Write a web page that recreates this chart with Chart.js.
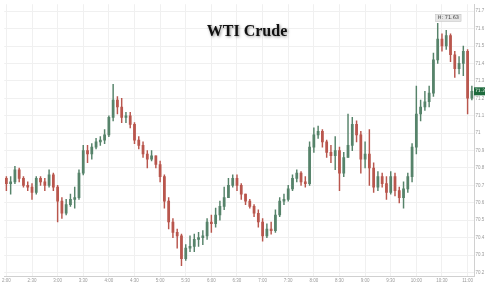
<!DOCTYPE html>
<html>
<head>
<meta charset="utf-8">
<script src="https://cdn.jsdelivr.net/npm/chart.js@4.4.0/dist/chart.umd.min.js"></script>
<style>
html,body{margin:0;padding:0;background:#fff;}
canvas{display:block;}
</style>
</head>
<body>
<canvas id="chart" width="485" height="286"></canvas>
<script>
// 5-minute candles, 2:00 -> 11:05
var opens = [70.74,70.71,70.72,70.79,70.74,70.70,70.69,70.66,70.74,70.72,
             70.70,70.76,70.69,70.61,70.54,70.59,70.62,70.63,70.77,70.90,
             70.88,70.92,70.95,70.96,70.99,71.09,71.19,71.15,71.09,71.10,
             71.05,70.96,70.93,70.88,70.85,70.87,70.82,70.75,70.61,70.49,
             70.43,70.41,70.28,70.34,70.35,70.39,70.40,70.41,70.49,70.48,
             70.53,70.58,70.63,70.70,70.74,70.70,70.65,70.61,70.58,70.54,
             70.49,70.41,70.45,70.44,70.53,70.61,70.62,70.68,70.74,70.77,
             70.72,70.71,70.92,70.99,71.01,70.95,70.89,70.87,70.90,70.77,
             70.86,70.93,71.05,70.99,70.85,70.88,70.80,70.69,70.75,70.71,
             70.66,70.75,70.67,70.63,70.68,70.75,70.92,71.11,71.15,71.18,
             71.23,71.42,71.54,71.50,71.56,71.45,71.37,71.40,71.47,71.20];
var highs = [70.75,70.75,70.81,70.80,70.75,70.72,70.71,70.75,70.75,70.74,
             70.79,70.77,70.70,70.63,70.62,70.65,70.69,70.79,70.93,70.93,
             70.94,70.97,70.98,71.02,71.10,71.28,71.21,71.20,71.12,71.12,
             71.06,70.98,70.95,70.90,70.90,70.87,70.84,70.76,70.63,70.51,
             70.45,70.42,70.36,70.41,70.42,70.43,70.44,70.51,70.53,70.57,
             70.61,70.69,70.74,70.76,70.76,70.71,70.65,70.62,70.59,70.56,
             70.51,70.48,70.49,70.56,70.63,70.65,70.70,70.76,70.79,70.78,
             70.75,70.95,71.03,71.04,71.02,70.96,70.93,70.98,70.92,70.89,
             71.11,71.09,71.07,71.01,70.95,71.02,70.83,70.78,70.77,70.75,
             70.78,70.77,70.69,70.72,70.77,70.94,71.27,71.19,71.24,71.27,
             71.46,71.63,71.57,71.59,71.57,71.47,71.44,71.50,71.48,71.27];
var lows  = [70.67,70.65,70.71,70.72,70.69,70.67,70.62,70.65,70.70,70.67,
             70.69,70.67,70.49,70.51,70.53,70.58,70.57,70.62,70.76,70.83,
             70.85,70.91,70.93,70.94,70.98,71.07,71.11,71.06,71.06,71.03,
             70.94,70.91,70.86,70.80,70.84,70.80,70.72,70.57,70.45,70.40,
             70.34,70.24,70.27,70.32,70.32,70.35,70.36,70.39,70.43,70.46,
             70.50,70.56,70.66,70.69,70.67,70.62,70.59,70.57,70.52,70.46,
             70.38,70.40,70.42,70.43,70.52,70.59,70.61,70.67,70.72,70.70,
             70.69,70.70,70.89,70.97,70.92,70.86,70.83,70.79,70.67,70.75,
             70.86,70.90,70.95,70.77,70.80,70.70,70.66,70.67,70.69,70.62,
             70.65,70.64,70.60,70.57,70.66,70.72,70.88,71.07,71.13,71.15,
             71.21,71.40,71.47,71.48,71.41,71.32,71.34,71.33,71.11,71.19];
var closes = [70.71,70.72,70.79,70.74,70.70,70.69,70.66,70.74,70.72,70.70,
              70.76,70.69,70.61,70.54,70.59,70.62,70.63,70.77,70.90,70.88,
              70.92,70.95,70.96,70.99,71.09,71.19,71.15,71.09,71.10,71.05,
              70.96,70.93,70.88,70.85,70.87,70.82,70.75,70.61,70.49,70.43,
              70.41,70.28,70.34,70.35,70.39,70.40,70.41,70.49,70.48,70.53,
              70.58,70.63,70.70,70.74,70.70,70.65,70.61,70.58,70.54,70.49,
              70.41,70.45,70.44,70.53,70.61,70.62,70.68,70.74,70.77,70.72,
              70.71,70.92,70.99,71.01,70.95,70.89,70.87,70.90,70.77,70.86,
              70.93,71.05,70.99,70.85,70.88,70.80,70.69,70.75,70.71,70.66,
              70.75,70.67,70.63,70.68,70.75,70.92,71.11,71.15,71.18,71.23,
              71.42,71.54,71.50,71.56,71.45,71.37,71.40,71.47,71.20,71.24];

var tickLabels = ['2:00','2:30','3:00','3:30','4:00','4:30','5:00','5:30','6:00','6:30',
                  '7:00','7:30','8:00','8:30','9:00','9:30','10:00','10:30','11:00'];
var yTicks = [70.2,70.3,70.4,70.5,70.6,70.7,70.8,70.9,71.0,71.1,71.2,71.3,71.4,71.5,71.6,71.7];
var titleText = 'WTI Crude';

var upColor = '#56836a';
var downColor = '#b9564d';

// one category per candle, labelled by time
var times = [];
for (var m = 0; m < closes.length; m++) {
    var t = 120 + m * 5;
    var mm = t % 60;
    times.push(Math.floor(t / 60) + ':' + (mm < 10 ? '0' : '') + mm);
}

var wicks = [];
var bodies = [];
var colors = [];
for (var i = 0; i < closes.length; i++) {
    wicks.push([lows[i], highs[i]]);
    bodies.push([opens[i], closes[i]]);
    colors.push(closes[i] >= opens[i] ? upColor : downColor);
}

var overlay = {
    id: 'overlay',
    afterDraw: function(chart) {
        var ctx = chart.ctx;
        var xs = chart.scales.x, ys = chart.scales.y;
        var area = chart.chartArea;

        ctx.save();
        ctx.font = 'bold 16px "Liberation Serif", "DejaVu Serif", serif';
        ctx.textAlign = 'center';
        ctx.textBaseline = 'alphabetic';
        ctx.shadowColor = 'rgba(0,0,0,0.45)';
        ctx.shadowBlur = 3;
        ctx.shadowOffsetX = 1;
        ctx.shadowOffsetY = 1;
        ctx.fillStyle = '#111';
        ctx.fillText(titleText, 247, 36);
        ctx.restore();

        // session high marker
        var hi = Math.max.apply(null, highs);
        var hiIdx = highs.indexOf(hi);
        var hx = xs.getPixelForValue(hiIdx);
        var hy = ys.getPixelForValue(hi);
        var hiText = 'H: ' + hi.toFixed(2);
        ctx.save();
        ctx.font = '5px "DejaVu Sans", sans-serif';
        var w = ctx.measureText(hiText).width + 4;
        ctx.fillStyle = '#e6e6e6';
        ctx.strokeStyle = '#bdbdbd';
        ctx.lineWidth = 0.5;
        ctx.fillRect(hx - 2, hy - 9, w, 7);
        ctx.strokeRect(hx - 2, hy - 9, w, 7);
        ctx.fillStyle = '#444';
        ctx.textBaseline = 'middle';
        ctx.fillText(hiText, hx, hy - 5.5);
        ctx.restore();

        // last price tag
        var last = closes[closes.length - 1];
        var ly = ys.getPixelForValue(last);
        ctx.save();
        ctx.fillStyle = '#1d6a3c';
        ctx.fillRect(area.right, ly - 4, chart.width - area.right, 8);
        ctx.fillStyle = '#fff';
        ctx.font = '4.5px "DejaVu Sans", sans-serif';
        ctx.textBaseline = 'middle';
        ctx.fillText(last.toFixed(2), area.right + 1, ly);
        ctx.restore();
    }
};

var chart = new Chart(document.getElementById('chart'), {
    type: 'bar',
    data: {
        labels: times,
        datasets: [{
            label: 'wick',
            data: wicks,
            backgroundColor: colors,
            barThickness: 0.8,
            grouped: false,
            order: 2
        }, {
            label: 'body',
            data: bodies,
            backgroundColor: colors,
            barThickness: 2.1,
            minBarLength: 1,
            grouped: false,
            order: 1
        }]
    },
    options: {
        responsive: false,
        animation: false,
        layout: { padding: 0 },
        plugins: {
            legend: { display: false },
            tooltip: { enabled: false }
        },
        scales: {
            x: {
                offset: true,
                grid: {
                    offset: false,
                    drawTicks: false,
                    color: function(c) { return c.tick && c.tick.label ? '#f0f0f0' : 'rgba(0,0,0,0)'; }
                },
                border: { color: '#d0d0d0' },
                ticks: {
                    autoSkip: false,
                    maxRotation: 0,
                    padding: 2,
                    color: '#999',
                    font: { size: 4.5 },
                    callback: function(v) {
                        var l = this.getLabelForValue(v);
                        return tickLabels.indexOf(l) >= 0 ? l : '';
                    }
                },
                afterFit: function(s) { s.height = 10; }
            },
            y: {
                position: 'right',
                min: 70.18,
                max: 71.74,
                afterBuildTicks: function(s) {
                    s.ticks = yTicks.map(function(v) { return { value: v }; });
                },
                grid: { color: '#f0f0f0', drawTicks: false },
                border: { color: '#d0d0d0' },
                ticks: {
                    padding: 1.5,
                    color: '#999',
                    font: { size: 4.5 },
                    callback: function(v) { return String(Number(v.toFixed(1))); }
                },
                afterFit: function(s) { s.width = 11; }
            }
        }
    },
    plugins: [overlay]
});
</script>
</body>
</html>
